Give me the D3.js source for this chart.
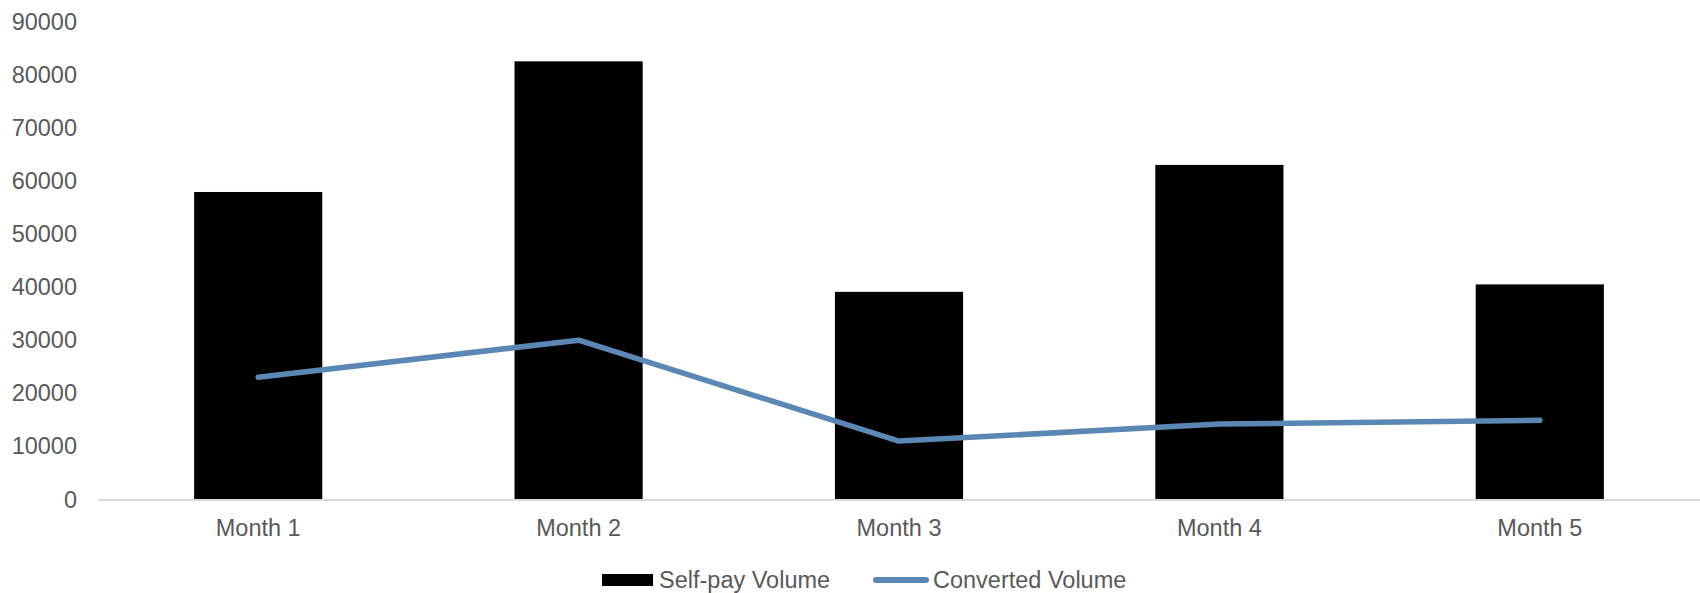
<!DOCTYPE html>
<html><head><meta charset="utf-8">
<script src="https://cdn.jsdelivr.net/npm/d3@7"></script>
<style>
body{margin:0;background:#fff;}
svg{display:block;font-family:"Liberation Sans",Arial,sans-serif;}
</style></head>
<body><svg id="c" width="1700" height="593"></svg>
<script>
const categories = ["Month 1","Month 2","Month 3","Month 4","Month 5"];
const selfPay = [57900, 82500, 39100, 63000, 40500];
const converted = [23000, 30000, 11000, 14200, 14900];
const yTicks = [0,10000,20000,30000,40000,50000,60000,70000,80000,90000];
const seriesNames = ["Self-pay Volume","Converted Volume"];

const svg = d3.select("#c");
const x = d3.scaleBand().domain(categories).range([98,1700]).paddingInner(0.6).paddingOuter(0.3);
const y = d3.scaleLinear().domain([0,90000]).range([499.5,21.5]);

const yAxis = svg.append("g").attr("transform","translate(98,0)")
  .call(d3.axisLeft(y).tickValues(yTicks).tickSize(0).tickPadding(21).tickFormat(d3.format("d")));
yAxis.select(".domain").remove();
yAxis.selectAll("text").attr("fill","#595959").style("font-size","23.5px");

svg.append("g").selectAll("rect").data(selfPay).join("rect")
  .attr("x",(d,i)=>x(categories[i])).attr("width",x.bandwidth())
  .attr("y",d=>y(d)).attr("height",d=>y(0)-y(d)).attr("fill","#000");

const xAxis = svg.append("g").attr("transform","translate(0,499.5)")
  .call(d3.axisBottom(x).tickSize(0).tickPadding(20));
xAxis.select(".domain").attr("stroke","#d9d9d9").attr("stroke-width",1.8);
xAxis.selectAll("text").attr("fill","#595959").style("font-size","23.5px");

const line = d3.line().x((d,i)=>x(categories[i])+x.bandwidth()/2).y(d=>y(d));
svg.append("path").datum(converted).attr("d",line).attr("fill","none")
  .attr("stroke","#5b87b5").attr("stroke-width",5.5).attr("stroke-linecap","round").attr("stroke-linejoin","round");

const lg = svg.append("g");
lg.append("rect").attr("x",602).attr("y",574).attr("width",51).attr("height",12).attr("fill","#000");
lg.append("text").attr("x",659).attr("y",588).attr("fill","#595959").style("font-size","23.5px").text(seriesNames[0]);
lg.append("line").attr("x1",876).attr("x2",926).attr("y1",580).attr("y2",580).attr("stroke","#5b87b5").attr("stroke-width",6).attr("stroke-linecap","round");
lg.append("text").attr("x",933).attr("y",588).attr("fill","#595959").style("font-size","23.5px").text(seriesNames[1]);
</script></body></html>
